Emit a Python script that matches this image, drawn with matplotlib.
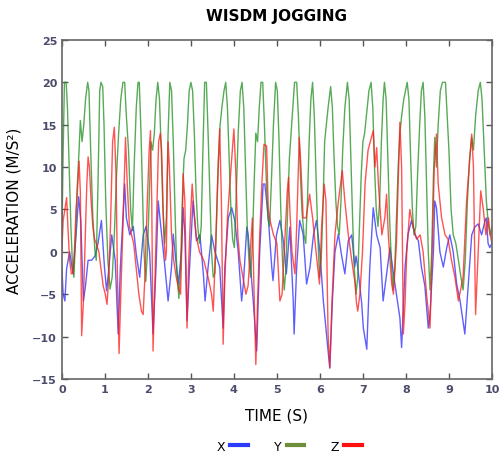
import matplotlib
matplotlib.use("Agg")
import matplotlib.pyplot as plt

# acceleration samples (time in s, value in m/s^2)
y_t = [0.00, 0.03, 0.06, 0.10, 0.13, 0.17, 0.21, 0.25, 0.28, 0.32, 0.36, 0.40, 0.43, 0.47, 0.51, 0.55,
       0.60, 0.63, 0.67, 0.72, 0.77, 0.80, 0.84, 0.88, 0.91, 0.95, 0.98, 1.02, 1.07, 1.12, 1.17, 1.22,
       1.27, 1.32, 1.37, 1.42, 1.46, 1.50, 1.55, 1.60, 1.64, 1.68, 1.73, 1.77, 1.80, 1.84, 1.88, 1.91,
       1.95, 1.99, 2.03, 2.07, 2.11, 2.15, 2.19, 2.23, 2.27, 2.31, 2.35, 2.39, 2.43, 2.47, 2.51, 2.55,
       2.59, 2.63, 2.67, 2.72, 2.76, 2.80, 2.84, 2.88, 2.92, 2.96, 3.00, 3.04, 3.08, 3.12, 3.16, 3.20,
       3.24, 3.28, 3.32, 3.36, 3.40, 3.44, 3.48, 3.52, 3.56, 3.60, 3.64, 3.68, 3.72, 3.77, 3.81, 3.85,
       3.89, 3.93, 3.97, 4.01, 4.05, 4.10, 4.15, 4.19, 4.23, 4.27, 4.31, 4.35, 4.39, 4.43, 4.47, 4.51,
       4.55, 4.59, 4.63, 4.67, 4.71, 4.75, 4.79, 4.83, 4.87, 4.92, 4.97, 5.01, 5.05, 5.09, 5.13, 5.17,
       5.21, 5.25, 5.29, 5.33, 5.37, 5.41, 5.46, 5.50, 5.54, 5.58, 5.63, 5.67, 5.71, 5.75, 5.79, 5.83,
       5.87, 5.91, 5.95, 5.99, 6.03, 6.07, 6.11, 6.15, 6.19, 6.25, 6.29, 6.33, 6.37, 6.41, 6.45, 6.49,
       6.53, 6.58, 6.64, 6.68, 6.72, 6.76, 6.80, 6.84, 6.88, 6.92, 6.96, 7.00, 7.04, 7.08, 7.14, 7.19,
       7.23, 7.27, 7.31, 7.35, 7.39, 7.43, 7.47, 7.50, 7.54, 7.58, 7.62, 7.66, 7.70, 7.74, 7.78, 7.82,
       7.86, 7.90, 7.95, 8.03, 8.07, 8.11, 8.15, 8.19, 8.23, 8.27, 8.32, 8.36, 8.40, 8.44, 8.48, 8.52,
       8.56, 8.60, 8.64, 8.67, 8.71, 8.75, 8.80, 8.85, 8.92, 8.96, 9.00, 9.05, 9.10, 9.16, 9.22, 9.28,
       9.33, 9.38, 9.43, 9.48, 9.53, 9.57, 9.62, 9.68, 9.73, 9.77, 9.82, 9.87, 9.92, 9.96, 10.0]
y_acc = [1, 12, 20, 20, 17, 10, 3, -2, -3, 2, 8, 12, 15.5, 13, 15, 18,
         20, 19, 12, 4, 0, -1, 8, 19, 20, 19.5, 15, 6, -1, -4.4, -3, 2,
         9, 14, 18, 20, 20, 16, 12, 5, 2.5, 10, 17, 20, 20, 14, 6, 0,
         -3.5, 0, 6, 13, 12, 14, 18, 20, 18, 12, 5, 1, 4, 14, 20, 19,
         13, 5, -2, -5.5, -2, 6, 11, 12, 15, 19, 20, 19, 14, 7, 3, 1,
         3, 12, 20, 20, 14, 7, 0, -3, -2.5, 4, 11, 15, 17, 19, 20, 17,
         11, 5, 1.5, 0.5, 6, 14, 19, 20, 17, 10, 3, -1, -3, 1, 8, 14,
         13, 17, 20, 20, 15, 9, 4, 3, 8, 15, 20, 19, 13, 5, -1, -4.5,
         -2, 5, 11, 14, 17, 20, 20, 16, 10, 5, 2, 1, 6, 13, 18, 20,
         16, 9, 2, -3, -1, 5, 13, 15, 17, 19.5, 17, 11, 6, 3, 2, 6,
         12, 17, 20, 18, 11, 4, -2, -5, -3, 3, 9, 13, 14, 16, 19, 20,
         17, 10, 5, 3, 6, 13, 18, 20, 18, 11, 4, -1, -4.5, -2, 4, 10,
         14, 16, 18, 20, 18, 11, 5, 2, 3, 9, 15, 19, 20, 16, 8, 0,
         -4.5, 0, 9, 13.5, 10, 15, 19, 20, 20, 16, 12, 5, 2, 1, -1, -3,
         -4.5, -1, 6, 11, 13.5, 12, 16, 19, 20, 18, 12, 6, 3, 2, 3]

z_t = [0.00, 0.03, 0.07, 0.11, 0.14, 0.18, 0.22, 0.26, 0.29, 0.33, 0.37, 0.40, 0.43, 0.46, 0.50, 0.54,
       0.58, 0.61, 0.64, 0.68, 0.72, 0.76, 0.80, 0.86, 0.91, 0.96, 1.01, 1.05, 1.09, 1.13, 1.18, 1.22,
       1.26, 1.29, 1.33, 1.37, 1.42, 1.46, 1.48, 1.52, 1.57, 1.62, 1.67, 1.73, 1.79, 1.85, 1.89, 1.93,
       1.98, 2.03, 2.06, 2.09, 2.12, 2.16, 2.20, 2.25, 2.29, 2.32, 2.35, 2.38, 2.41, 2.43, 2.45, 2.47,
       2.50, 2.55, 2.60, 2.66, 2.72, 2.76, 2.80, 2.82, 2.86, 2.91, 2.95, 2.99, 3.03, 3.07, 3.12, 3.20,
       3.30, 3.40, 3.48, 3.52, 3.57, 3.62, 3.67, 3.71, 3.75, 3.79, 3.85, 3.92, 4.00, 4.04, 4.09, 4.14,
       4.21, 4.28, 4.33, 4.38, 4.43, 4.47, 4.51, 4.55, 4.60, 4.65, 4.70, 4.76, 4.80, 4.85, 4.92, 5.00,
       5.05, 5.07, 5.12, 5.18, 5.24, 5.27, 5.31, 5.35, 5.42, 5.46, 5.52, 5.56, 5.61, 5.68, 5.76, 5.83,
       5.91, 5.99, 6.04, 6.10, 6.14, 6.19, 6.23, 6.28, 6.35, 6.43, 6.52, 6.58, 6.66, 6.74, 6.82, 6.85,
       6.88, 6.93, 6.99, 7.05, 7.12, 7.24, 7.28, 7.32, 7.36, 7.44, 7.51, 7.55, 7.59, 7.67, 7.71, 7.78,
       7.86, 7.90, 7.94, 7.98, 8.02, 8.09, 8.17, 8.25, 8.33, 8.40, 8.48, 8.56, 8.60, 8.66, 8.71, 8.75,
       8.83, 8.91, 8.98, 9.06, 9.14, 9.22, 9.33, 9.41, 9.53, 9.57, 9.60, 9.62, 9.68, 9.74, 9.80, 9.86,
       9.92, 9.96, 10.0]
z_acc = [0, 3.7, 5, 6.4, 3, -1, -2.6, -2.5, 0, 5, 8, 10.7, 7, -9.9, -6, 1,
         8, 11.2, 10, 6, 3, 1.5, 1, 0, -2, -4, -5, -6.2, -3, 3, 13, 14.7,
         9, -2, -12, -5, 3, 10, 13.5, 8, 3, 2, 1, -2, -5, -7, -7.4, -3,
         5, 12, 14.3, 6, -11.7, -4, 4, 13, 14, 12, 6, 1, -1, 0, 8, 13,
         10, 2, -1, -3, -4.5, -5, 3, 9.2, 6, -9, -1, 4, 8, 5, 2, 0,
         -1, -3, -5, -7, 0, 8, 14.5, 6, -10.9, -3, 4, 9, 14.5, 10, 2, -1,
         -3, -5, -4, 0, 4, -5, -13.3, -6, 2, 8, 12.7, 12.5, 5, 3.5, 2, 1,
         -4, -5.8, -5, 1, 7, 8.8, 4, 0, -2.6, 3, 13.5, 10, 4, 4, 6.8, 4,
         0, -3.8, 3, 8, 6, -9.7, -13.7, -6, 2, 6, 9.6, 6, 2, -1, -3.8, -6,
         -7, -5, 0, 8, 12, 14.3, 10, 12.3, 8, 2, 4, 6.8, 2, -3.8, -5, 1,
         15.3, 10, -9.7, -6, 0, 5, 2.9, 1.5, 2, 0, -5, -9, -2, 10, 13.9, 8,
         4, 2, 1.5, -1, -3, -5.8, -3, 6, 13.9, 10, -1, -7.4, 0, 7.2, 5, 2,
         4, 2, 1]

x_t = [0.00, 0.03, 0.07, 0.11, 0.18, 0.26, 0.33, 0.39, 0.44, 0.50, 0.55, 0.61, 0.69, 0.77, 0.84, 0.92,
       0.99, 1.04, 1.08, 1.16, 1.24, 1.31, 1.36, 1.46, 1.50, 1.58, 1.66, 1.73, 1.81, 1.89, 1.96, 2.04,
       2.12, 2.19, 2.24, 2.32, 2.40, 2.47, 2.55, 2.59, 2.63, 2.71, 2.78, 2.82, 2.86, 2.91, 2.97, 3.05,
       3.13, 3.21, 3.29, 3.33, 3.40, 3.48, 3.56, 3.67, 3.75, 3.79, 3.87, 3.95, 4.02, 4.10, 4.18, 4.22,
       4.30, 4.33, 4.45, 4.53, 4.60, 4.68, 4.72, 4.80, 4.88, 4.91, 4.99, 5.07, 5.15, 5.22, 5.30, 5.38,
       5.40, 5.46, 5.53, 5.61, 5.69, 5.77, 5.85, 5.92, 6.00, 6.08, 6.19, 6.23, 6.29, 6.35, 6.43, 6.50,
       6.58, 6.66, 6.74, 6.81, 6.84, 6.88, 6.97, 7.01, 7.09, 7.16, 7.24, 7.32, 7.40, 7.47, 7.55, 7.63,
       7.71, 7.78, 7.86, 7.90, 7.98, 8.05, 8.13, 8.21, 8.29, 8.36, 8.44, 8.52, 8.56, 8.64, 8.67, 8.71,
       8.79, 8.87, 8.95, 9.02, 9.10, 9.18, 9.26, 9.37, 9.45, 9.53, 9.60, 9.68, 9.76, 9.84, 9.87, 9.91,
       9.95, 10.0]
x_acc = [-1.8, -5, -5.8, -2, 0, -2.6, 2, 6.5, 3.7, -5.8, -4, -1, -1, -0.5, 1, 3.7,
         -1.8, -4.6, -2.6, 2, -1, -9.7, -1.8, 8, 4, 2, 3, -0.3, -3, 2, 3, 0,
         -9.7, -1.8, 6, 2, -2, -5.8, -1.8, 2.1, 0, -3.8, 0, 5.2, 2, -8.1, -1.8, 6,
         1.3, 2, -2.6, -5.8, -1.8, 2, 0, -1.8, -9, -1.8, 4, 5.2, 3.7, 0, -5.8, -3.8,
         2.9, 2.1, -5.8, -11.7, 0, 8, 8, 4, -1.8, -3.4, 2, 3.7, 1.3, -2.6, 2.9, -5.8,
         -9.7, -1.8, 3.7, 2.1, -3.8, -1.8, 2, 3.7, 0, -5.8, -11.7, -13.7, -5.8, 0, 2.1, -0.3,
         -2.6, 1.3, 2, -1.8, -0.5, -1.8, -6, -9, -11.5, -1.8, 5.2, 2, 0.5, -5.8, -2.6, 0.5,
         -2.6, -5, -7.8, -11.3, -1.8, 2.1, 3.7, 2, 1.3, -1.8, -4, -9, -7.4, 0, 6, 5.2,
         0, -1.8, 0.5, 2, 0, -3.8, -5.8, -9.7, -3.8, 2, 2.9, 3.3, 2, 3.7, 4, 1,
         0.5, 1]

tick_col = "#4b4b6b"

fig = plt.figure(figsize=(5.03, 4.6), dpi=100)
ax = fig.add_axes([0.123, 0.174, 0.855, 0.737])

ax.plot(x_t, x_acc, color="#2a2aff", lw=1.0, alpha=0.75, label="X")
ax.plot(y_t, y_acc, color="#1f8f1f", lw=1.0, alpha=0.75, label="Y")
ax.plot(z_t, z_acc, color="#ff1a1a", lw=1.0, alpha=0.75, label="Z")

ax.set_xlim(0, 10)
ax.set_ylim(-15, 25)
ax.set_xticks(range(0, 11))
ax.set_yticks(range(-15, 26, 5))
ax.tick_params(direction="in", top=True, right=True, length=4, width=1, colors="#555555",
               labelcolor=tick_col, labelsize=8)
for lab in ax.get_xticklabels() + ax.get_yticklabels():
    lab.set_fontweight("bold")
for s in ax.spines.values():
    s.set_color("#666666")
    s.set_linewidth(1.2)

ax.set_title("WISDM JOGGING", fontsize=11, fontweight="bold", pad=14)
ax.set_xlabel("TIME (S)", fontsize=11, labelpad=10)
ax.set_ylabel("ACCELERATION (M/S²)", fontsize=11, labelpad=8)

# legend below the plot, text before the line
handles = [plt.Line2D([], [], color=c, lw=3) for c in ["#2b3cff", "#6e8f3a", "#ff1010"]]
fig.legend(handles, ["X", "Y", "Z"], loc="center", bbox_to_anchor=(0.575, 0.028), ncol=3,
           frameon=False, markerfirst=False, handlelength=1.4, columnspacing=2.1,
           handletextpad=0.4, fontsize=9)

fig.savefig("out.png", dpi=100)
